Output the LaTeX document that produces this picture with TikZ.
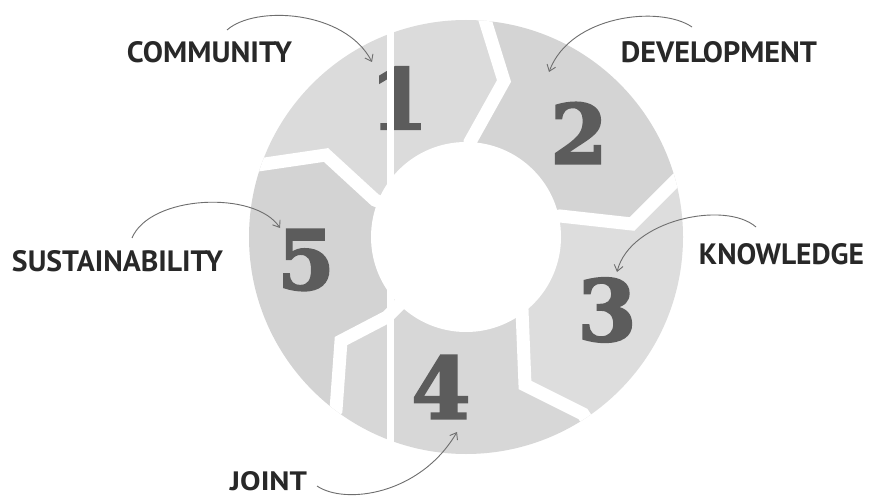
\documentclass[tikz,border=0pt]{standalone}
\usepackage{fontspec}
\usetikzlibrary{arrows.meta}
\newfontfamily\labfont{PT Sans}
\newfontfamily\digfont{DejaVu Serif}[BoldFeatures={FakeBold=2.5}]
\definecolor{segone}{RGB}{219,219,219}
\definecolor{segtwo}{RGB}{212,212,212}
\definecolor{segthree}{RGB}{221,221,221}
\definecolor{segfour}{RGB}{215,215,215}
\definecolor{segfive}{RGB}{211,211,211}
\definecolor{digitgray}{RGB}{92,92,92}
\definecolor{labelgray}{RGB}{40,40,40}
\definecolor{arrowgray}{RGB}{110,110,110}
\begin{document}
\begin{tikzpicture}[x=1pt,y=-1pt,
  labeltext/.style={inner sep=0pt, text=labelgray, font=\labfont\bfseries},
  digittext/.style={inner sep=0pt, text=digitgray, font=\digfont\bfseries},
  pointer/.style={draw=arrowgray, line width=0.9pt, -{Straight Barb[length=6pt,width=9pt]}},
  gapline/.style={draw=white, line width=13pt, line join=miter, miter limit=10},
]
\useasboundingbox (0,0) rectangle (869,497);
\fill[white] (0,0) rectangle (869,497);
\coordinate (C) at (466,237);
% gap 1/2
\coordinate (F12) at (501,-161);
\coordinate (O12) at (485,20);
\coordinate (V12) at (504,81);
\coordinate (I12) at (470,142);
% gap 2/3
\coordinate (F23) at (851,130);
\coordinate (O23) at (678,178);
\coordinate (V23) at (632,224);
\coordinate (I23) at (560,216);
% gap 3/4
\coordinate (F34) at (686,571);
\coordinate (O34) at (583,414);
\coordinate (V34) at (525,385);
\coordinate (I34) at (522,310);
% gap 4/5
\coordinate (F45) at (226,557);
\coordinate (O45) at (336,410);
\coordinate (V45) at (341,341);
\coordinate (I45) at (387,317);
% gap 5/1
\coordinate (F51) at (88,106);
\coordinate (O51) at (258,165);
\coordinate (V51) at (326,155);
\coordinate (I51) at (375,200);
\begin{scope}
  \clip (C) circle (217);
  \fill[segone] (C) -- (I51) -- (V51) -- (O51) -- (F51) -- (F12) -- (O12) -- (V12) -- (I12) -- cycle;
  \fill[segtwo] (C) -- (I12) -- (V12) -- (O12) -- (F12) -- (F23) -- (O23) -- (V23) -- (I23) -- cycle;
  \fill[segthree] (C) -- (I23) -- (V23) -- (O23) -- (F23) -- (F34) -- (O34) -- (V34) -- (I34) -- cycle;
  \fill[segfour] (C) -- (I34) -- (V34) -- (O34) -- (F34) -- (F45) -- (O45) -- (V45) -- (I45) -- cycle;
  \fill[segfive] (C) -- (I45) -- (V45) -- (O45) -- (F45) -- (F51) -- (O51) -- (V51) -- (I51) -- cycle;
  \draw[gapline] (F12) -- (O12) -- (V12) -- (I12) -- (C);
  \draw[gapline] (F23) -- (O23) -- (V23) -- (I23) -- (C);
  \draw[gapline] (F34) -- (O34) -- (V34) -- (I34) -- (C);
  \draw[gapline] (F45) -- (O45) -- (V45) -- (I45) -- (C);
  \draw[gapline] (F51) -- (O51) -- (V51) -- (I51) -- (C);
\end{scope}
\fill[white] (C) circle (95);
% digits
\node[digittext] (d1) at (399,98) {\resizebox{!}{62pt}{1}};
\node[digittext] (d2) at (579,133) {\resizebox{!}{61pt}{2}};
\node[digittext] (d3) at (607,310) {\resizebox{!}{63pt}{3}};
\node[digittext] (d4) at (441,387) {\resizebox{!}{63pt}{4}};
\node[digittext] (d5) at (306,260) {\resizebox{!}{60pt}{5}};
% stitching stripe
\fill[white] (386.5,15) rectangle (393.5,455);
% labels
\node[labeltext] (lc) at (209.5,52.5) {\resizebox{165pt}{21pt}{COMMUNITY}};
\node[labeltext] (ld) at (719,52.5) {\resizebox{196pt}{21pt}{DEVELOPMENT}};
\node[labeltext] (lk) at (781.5,254.5) {\resizebox{165pt}{21pt}{KNOWLEDGE}};
\node[labeltext] (ls) at (117.5,261.5) {\resizebox{211pt}{21pt}{SUSTAINABILITY}};
\node[labeltext] (lj) at (268.5,481) {\resizebox{77pt}{19pt}{JOINT}};
% arrows
\coordinate (a1s) at (227,30);
\coordinate (a1e) at (372,62);
\coordinate (a2s) at (692,27);
\coordinate (a2e) at (549,72);
\coordinate (a3s) at (756,227);
\coordinate (a3e) at (617,272);
\coordinate (a5s) at (132,238);
\coordinate (a5e) at (280,228);
\coordinate (a4s) at (317,486);
\coordinate (a4e) at (457,432);
\draw[pointer] (a1s) .. controls (255,5) and (345,10) .. (a1e);
\draw[pointer] (a2s) .. controls (660,5) and (570,15) .. (a2e);
\draw[pointer] (a3s) .. controls (725,200) and (630,220) .. (a3e);
\draw[pointer] (a5s) .. controls (150,195) and (255,190) .. (a5e);
\draw[pointer] (a4s) .. controls (345,505) and (420,495) .. (a4e);
\end{tikzpicture}
\end{document}
